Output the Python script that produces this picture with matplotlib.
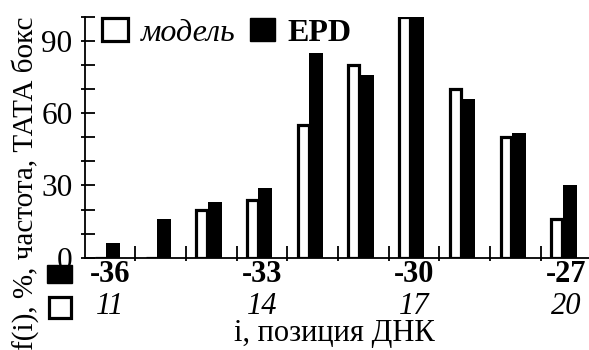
import matplotlib
matplotlib.use("Agg")
import matplotlib.pyplot as plt
from matplotlib.patches import Patch, Rectangle
from matplotlib.transforms import blended_transform_factory

# DNA positions (relative to TSS) and frequencies, %
positions = [-36, -35, -34, -33, -32, -31, -30, -29, -28, -27]
model_freq = [0, 0, 20, 24, 55, 80, 100, 70, 50, 16]
epd_freq = [6, 16, 23, 29, 85, 76, 100, 66, 52, 30]

# labelled positions: EPD coordinate and model coordinate
label_pos = [-36, -33, -30, -27]
model_labels = ["11", "14", "17", "20"]

ytick_labels = [0, 30, 60, 90]

plt.rcParams["font.family"] = ["Liberation Serif", "DejaVu Serif"]
FS = 22.5

W, H = 589, 350
fig = plt.figure(figsize=(W / 100, H / 100), dpi=100)
ax = fig.add_axes([85 / W, (H - 257.7) / H, 504 / W, (257.7 - 17) / H])

# white (model) bars on the left, black (EPD) bars on the right, slightly overlapping
ax.bar([p - 0.295 for p in positions], model_freq, width=0.216, align="edge",
       facecolor="white", edgecolor="black", linewidth=2.3, zorder=2)
ax.bar([p - 0.07 for p in positions], epd_freq, width=0.275, align="edge",
       facecolor="black", edgecolor="none", zorder=3)

ax.set_xlim(-36.49, -26.55)
ax.set_ylim(0, 100)

for s in ("top", "right"):
    ax.spines[s].set_visible(False)
for s in ("left", "bottom"):
    ax.spines[s].set_linewidth(1.3)
    ax.spines[s].set_zorder(4)

# ticks reach mostly inside the axes, with a short stub outside
ax.xaxis.remove_overlapping_locs = False
ax.yaxis.remove_overlapping_locs = False

yt = list(range(0, 101, 10))
ax.set_yticks(yt)
ax.set_yticks(yt, minor=True)
ax.set_yticklabels([str(v) if v in ytick_labels else "" for v in yt], fontsize=FS)
ax.tick_params(axis="y", which="major", direction="in", length=7, width=1.3, pad=9)
ax.tick_params(axis="y", which="minor", direction="out", length=3, width=1.3)

xt = [p + 0.5 for p in positions[:-1]]
ax.set_xticks(xt)
ax.set_xticks(xt, minor=True)
ax.set_xticklabels([])
ax.tick_params(axis="x", which="major", direction="in", length=8.5, width=1.3)
ax.tick_params(axis="x", which="minor", direction="out", length=2.5, width=1.3)

# bottom row labels: EPD positions in bold, model positions in italics
tr = blended_transform_factory(ax.transData, fig.transFigure)
for p, m in zip(label_pos, model_labels):
    ax.text(p, (H - 275) / H, str(p), transform=tr, ha="center", va="center",
            fontsize=22, fontweight="bold")
    ax.text(p, (H - 306) / H, m, transform=tr, ha="center", va="center",
            fontsize=22, style="italic")

# row keys at the left of the position labels
fig.patches.append(Rectangle((47 / W, (H - 283) / H), 25 / W, 18 / H,
                             transform=fig.transFigure, facecolor="black",
                             edgecolor="black", linewidth=1))
fig.patches.append(Rectangle((48.5 / W, (H - 317.5) / H), 22 / W, 21 / H,
                             transform=fig.transFigure, facecolor="white",
                             edgecolor="black", linewidth=2.3))

fig.text(334 / W, (H - 333) / H, "i, позиция ДНК", ha="center", va="center",
         fontsize=22)
fig.text(25 / W, (H - 183) / H, "f(i), %, частота, ТАТА бокс", rotation=90,
         ha="center", va="center", fontsize=21)

handles = [Patch(facecolor="white", edgecolor="black", linewidth=2.3),
           Patch(facecolor="black", edgecolor="black")]
leg = ax.legend(handles, ["модель", "EPD"], ncol=2, loc="upper left",
                bbox_to_anchor=(0.034, 0.995), frameon=False, fontsize=23,
                handlelength=0.8, handleheight=0.7, handletextpad=0.4,
                columnspacing=0.45, borderaxespad=0, borderpad=0)
leg.get_texts()[0].set_style("italic")
leg.get_texts()[1].set_fontweight("bold")

fig.savefig("out.png", dpi=100)
